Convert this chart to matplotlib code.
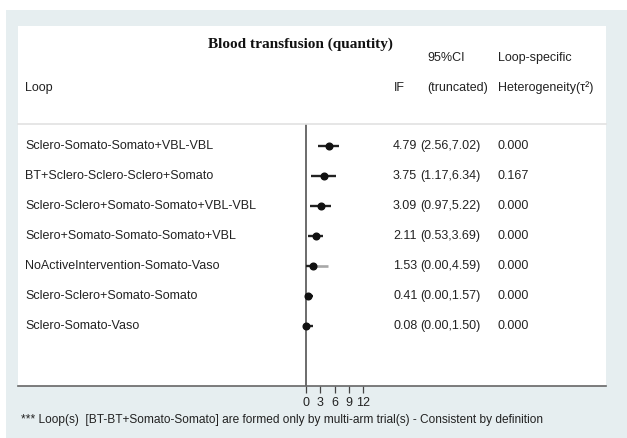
import matplotlib
matplotlib.use("Agg")
import matplotlib.pyplot as plt
from matplotlib.patches import Rectangle

# ---- data ----
loops = [
    "Sclero-Somato-Somato+VBL-VBL",
    "BT+Sclero-Sclero-Sclero+Somato",
    "Sclero-Sclero+Somato-Somato+VBL-VBL",
    "Sclero+Somato-Somato-Somato+VBL",
    "NoActiveIntervention-Somato-Vaso",
    "Sclero-Sclero+Somato-Somato",
    "Sclero-Somato-Vaso",
]
if_values = [4.79, 3.75, 3.09, 2.11, 1.53, 0.41, 0.08]
ci_lower = [2.56, 1.17, 0.97, 0.53, 0.00, 0.00, 0.00]
ci_upper = [7.02, 6.34, 5.22, 3.69, 4.59, 1.57, 1.50]
heterogeneity = ["0.000", "0.167", "0.000", "0.000", "0.000", "0.000", "0.000"]
x_ticks = [0, 3, 6, 9, 12]

W, H = 627, 438
fig = plt.figure(figsize=(W / 100, H / 100), dpi=100)
fig.patch.set_facecolor("white")

def fx(px):
    return px / W

def fy(py):
    return 1 - py / H

# outer light panel and inner white plot region
fig.patches.append(Rectangle((fx(6), 0), 1 - fx(6), fy(10), transform=fig.transFigure,
                             facecolor="#e6eef0", edgecolor="none", zorder=-2))
fig.patches.append(Rectangle((fx(18), fy(386)), fx(606) - fx(18), fy(26) - fy(386),
                             transform=fig.transFigure, facecolor="white",
                             edgecolor="none", zorder=-1))

# forest-plot axes spanning the full inner width
ax_top, ax_bot = 123.5, 386
ax = fig.add_axes([fx(18), fy(ax_bot), fx(606) - fx(18), fy(ax_top) - fy(ax_bot)])
ax.set_zorder(1)
ax.patch.set_alpha(0)
px_per_unit = 4.8
zero_px = 305.7
ax.set_xlim((18 - zero_px) / px_per_unit, (606 - zero_px) / px_per_unit)
rows = list(range(1, len(loops) + 1))
ax.set_ylim((ax_bot - 146) / 30 + 1, (ax_top - 146) / 30 + 1)

for s in ("left", "right"):
    ax.spines[s].set_visible(False)
ax.spines["top"].set_color("#e2e2e2")
ax.spines["top"].set_linewidth(1.2)
ax.spines["bottom"].set_color("#666666")
ax.spines["bottom"].set_linewidth(1.2)
ax.set_yticks([])
ax.set_xticks(x_ticks)
ax.set_xticklabels([str(t) for t in x_ticks], fontsize=9,
                   fontfamily="Liberation Sans", color="#222222")
ax.tick_params(axis="x", direction="out", length=5, width=0.9, color="#444444", pad=3)

ax.axvline(0, color="#444444", lw=1.1, zorder=2)

for i, (y, v, lo, hi) in enumerate(zip(rows, if_values, ci_lower, ci_upper)):
    if loops[i].startswith("NoActive"):
        ax.plot([lo, v], [y, y], color="#222222", lw=1.7, solid_capstyle="butt", zorder=3)
        ax.plot([v, hi], [y, y], color="#a8a8a8", lw=1.9, solid_capstyle="butt", zorder=3)
    else:
        ax.plot([lo, hi], [y, y], color="#222222", lw=1.7, solid_capstyle="butt", zorder=3)
    ax.plot(v, y, marker="o", ms=4.8, color="#111111", zorder=4)

# text columns
txt = dict(fontfamily="Liberation Sans", fontsize=9, color="#222222", va="center")
fig.text(fx(300), fy(44), "Blood transfusion (quantity)", fontfamily="Liberation Serif",
         fontweight="bold", fontsize=11, color="#111111", ha="center", va="center")
fig.text(fx(427), fy(58), "95%CI", **txt)
fig.text(fx(498), fy(58), "Loop-specific", **txt)
fig.text(fx(25), fy(88), "Loop", **txt)
fig.text(fx(394), fy(88), "IF", **txt)
fig.text(fx(427), fy(88), "(truncated)", **txt)
fig.text(fx(498), fy(88), "Heterogeneity(τ²)", **txt)

for y, name, v, lo, hi, h in zip(rows, loops, if_values, ci_lower, ci_upper, heterogeneity):
    yy = fy(146 + 30 * (y - 1))
    fig.text(fx(25), yy, name, **txt)
    fig.text(fx(393), yy, f"{v:.2f}", **txt)
    fig.text(fx(420), yy, f"({lo:.2f},{hi:.2f})", **txt)
    fig.text(fx(497), yy, h, **txt)

fig.text(fx(21), fy(420),
         "*** Loop(s)  [BT-BT+Somato-Somato] are formed only by multi-arm trial(s) - Consistent by definition",
         fontfamily="Liberation Sans", fontsize=8.6, color="#222222", va="center")

fig.savefig("out.png", dpi=100)
